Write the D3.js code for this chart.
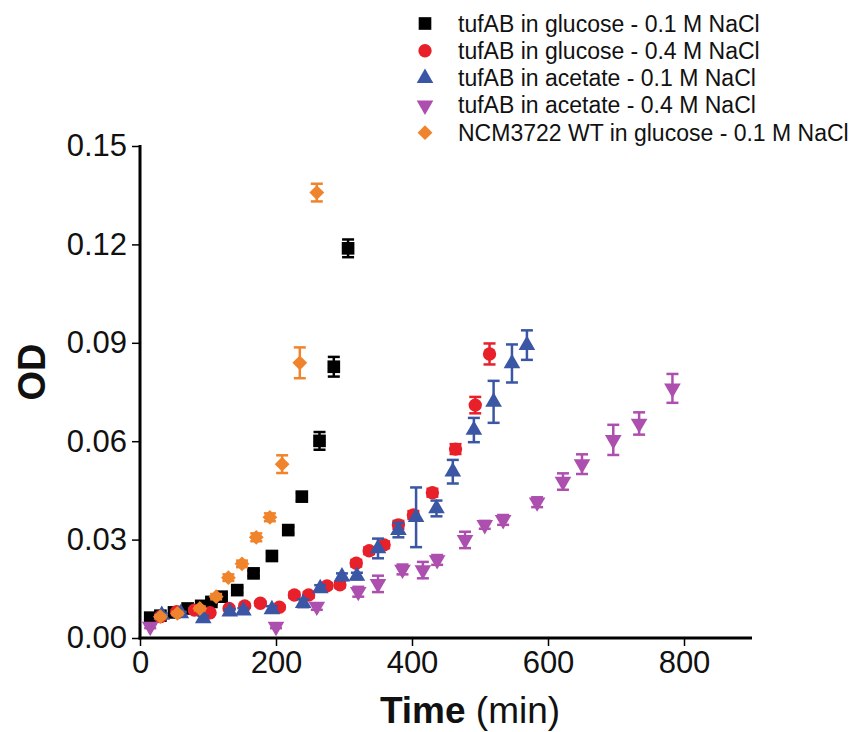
<!DOCTYPE html>
<html lang="en">
<head>
<meta charset="UTF-8" />
<title>OD over time</title>
<script src="https://d3js.org/d3.v7.min.js"></script>
<style>
  body { margin: 0; background: #fff; }
  svg { display: block; font-family: "Liberation Sans", Arial, sans-serif; }
</style>
</head>
<body>
<svg id="chart" width="853" height="732"></svg>
<script>
// series: time (min), OD, error
const glc01Time = [15, 30, 50, 70, 90, 105, 120, 143, 167, 194, 218, 238, 264, 285, 306];
const glc01OD   = [0.0062, 0.0068, 0.0078, 0.0090, 0.0098, 0.0110, 0.0126, 0.0146, 0.0197, 0.0250, 0.0329, 0.0431, 0.0601, 0.0827, 0.1188];
const glc01Err  = [0.0005, 0.0005, 0.0005, 0.0005, 0.0005, 0.0006, 0.0006, 0.0008, 0.0008, 0.001, 0.001, 0.0012, 0.0027, 0.003, 0.0027];

const glc04Time = [30, 54, 80, 103, 131, 154, 177, 205, 227, 248, 275, 294, 318, 337, 359, 380, 402, 430, 464, 493, 514];
const glc04OD   = [0.0065, 0.0080, 0.0085, 0.0077, 0.0090, 0.0098, 0.0106, 0.0094, 0.0131, 0.0131, 0.0159, 0.0162, 0.0228, 0.0266, 0.0284, 0.0345, 0.0375, 0.0443, 0.0576, 0.0710, 0.0866];
const glc04Err  = [0.0005, 0.0005, 0.0005, 0.0005, 0.0005, 0.0006, 0.0006, 0.0006, 0.0008, 0.0008, 0.0008, 0.0008, 0.001, 0.001, 0.001, 0.0012, 0.0012, 0.0012, 0.0015, 0.0025, 0.0032];

const ace01Time = [32, 60, 93, 132, 152, 194, 240, 265, 297, 319, 350, 380, 406, 436, 460, 491, 520, 547, 569];
const ace01OD   = [0.0070, 0.0075, 0.0060, 0.0080, 0.0083, 0.0087, 0.0106, 0.0151, 0.0187, 0.0189, 0.0273, 0.0329, 0.0368, 0.0395, 0.0507, 0.0634, 0.0720, 0.0837, 0.0893];
const ace01Err  = [0.0005, 0.0005, 0.0008, 0.0008, 0.0008, 0.001, 0.0012, 0.001, 0.001, 0.001, 0.003, 0.0022, 0.0091, 0.0024, 0.0036, 0.0037, 0.0064, 0.0058, 0.0045];

const ace04Time = [15, 200, 260, 321, 350, 386, 416, 437, 478, 507, 534, 584, 622, 650, 696, 734, 783];
const ace04OD   = [0.0035, 0.0035, 0.0096, 0.0141, 0.0165, 0.0209, 0.0207, 0.0238, 0.0299, 0.0345, 0.0360, 0.0414, 0.0477, 0.0530, 0.0604, 0.0654, 0.0761];
const ace04Err  = [0.0005, 0.0005, 0.001, 0.0015, 0.0025, 0.0015, 0.0025, 0.0015, 0.0025, 0.0012, 0.0015, 0.0015, 0.0025, 0.003, 0.0046, 0.0034, 0.0044];

const wtTime = [30, 55, 88, 112, 130, 150, 171, 191, 209, 235, 260];
const wtOD   = [0.0065, 0.0075, 0.0090, 0.0126, 0.0184, 0.0226, 0.0307, 0.0368, 0.0530, 0.0839, 0.1358];
const wtErr  = [0.0005, 0.0005, 0.0006, 0.0008, 0.001, 0.001, 0.0012, 0.0012, 0.0027, 0.0047, 0.0027];

const xTicks = [0, 200, 400, 600, 800];
const yTicks = [0, 0.03, 0.06, 0.09, 0.12, 0.15];

const series = [
  { name: "tufAB in glucose - 0.1 M NaCl", t: glc01Time, od: glc01OD, err: glc01Err, color: "#000000", shape: "square" },
  { name: "tufAB in glucose - 0.4 M NaCl", t: glc04Time, od: glc04OD, err: glc04Err, color: "#e8202a", shape: "circle" },
  { name: "tufAB in acetate - 0.1 M NaCl", t: ace01Time, od: ace01OD, err: ace01Err, color: "#3a56a5", shape: "triangle" },
  { name: "tufAB in acetate - 0.4 M NaCl", t: ace04Time, od: ace04OD, err: ace04Err, color: "#ac4fae", shape: "down" },
  { name: "NCM3722 WT in glucose - 0.1 M NaCl", t: wtTime, od: wtOD, err: wtErr, color: "#f0842c", shape: "diamond" }
];

const svg = d3.select("#chart");
const x = d3.scaleLinear().domain([0, 900]).range([140, 752]);
const y = d3.scaleLinear().domain([0, 0.15]).range([638, 146]);

function symbolPath(shape) {
  switch (shape) {
    case "square": return d3.symbol(d3.symbolSquare, 160)();
    case "circle": return d3.symbol(d3.symbolCircle, 140)();
    case "triangle": return d3.symbol(d3.symbolTriangle, 120)();
    case "down": return d3.symbol(d3.symbolTriangle, 120)();
    case "diamond": return d3.symbol(d3.symbolSquare, 110)();
  }
}
function symbolRotate(shape) {
  if (shape === "down") return " rotate(180)";
  if (shape === "diamond") return " rotate(45)";
  return "";
}

// axes
const yAxis = svg.append("g").attr("transform", "translate(140,0)")
  .call(d3.axisLeft(y).tickValues(yTicks).tickFormat(d3.format(".2f")).tickSize(8).tickPadding(5));
const xAxis = svg.append("g").attr("transform", "translate(0,638)")
  .call(d3.axisBottom(x).tickValues(xTicks).tickFormat(d3.format("d")).tickSize(8).tickPadding(5));
[xAxis, yAxis].forEach(a => {
  a.select(".domain").remove();
  a.selectAll(".tick line").attr("stroke", "#000").attr("stroke-width", 1.5);
  a.selectAll(".tick text").attr("fill", "#111").style("font-size", "31px");
});
svg.append("line").attr("x1", 140).attr("x2", 140).attr("y1", y(0.15) - 1).attr("y2", 639.5)
  .attr("stroke", "#000").attr("stroke-width", 3);
svg.append("line").attr("x1", 138.5).attr("x2", x(900)).attr("y1", 638).attr("y2", 638)
  .attr("stroke", "#000").attr("stroke-width", 3);

// axis titles
const xt = svg.append("text").attr("x", 470).attr("y", 723).attr("text-anchor", "middle")
  .style("font-size", "37px").attr("fill", "#111");
xt.append("tspan").attr("font-weight", "bold").text("Time");
xt.append("tspan").text(" (min)");
svg.append("text").attr("transform", "translate(45,372) rotate(-90)").attr("text-anchor", "middle")
  .style("font-size", "38px").attr("font-weight", "bold").attr("fill", "#111").text("OD");

// data: error bars then markers
series.forEach(s => {
  const pts = s.t.map((t, i) => ({ t: t, od: s.od[i], e: s.err[i] }));
  const g = svg.append("g");
  const eb = g.selectAll(".eb").data(pts).join("g").attr("stroke", s.color).attr("stroke-width", 2.5);
  eb.append("line").attr("x1", d => x(d.t)).attr("x2", d => x(d.t))
    .attr("y1", d => y(d.od + d.e)).attr("y2", d => y(d.od - d.e));
  eb.append("line").attr("x1", d => x(d.t) - 6).attr("x2", d => x(d.t) + 6)
    .attr("y1", d => y(d.od + d.e)).attr("y2", d => y(d.od + d.e));
  eb.append("line").attr("x1", d => x(d.t) - 6).attr("x2", d => x(d.t) + 6)
    .attr("y1", d => y(d.od - d.e)).attr("y2", d => y(d.od - d.e));
  g.selectAll(".pt").data(pts).join("path")
    .attr("d", symbolPath(s.shape))
    .attr("transform", d => `translate(${x(d.t)},${y(d.od)})` + symbolRotate(s.shape))
    .attr("fill", s.color);
});

// legend
const legend = svg.append("g");
series.forEach((s, i) => {
  const ly = 23.5 + i * 27.3;
  legend.append("path").attr("d", symbolPath(s.shape))
    .attr("transform", `translate(425,${ly})` + symbolRotate(s.shape))
    .attr("fill", s.color);
  legend.append("text").attr("x", 458).attr("y", ly).attr("dy", "0.35em")
    .style("font-size", "23px").attr("fill", "#111").text(s.name);
});
</script>
</body>
</html>
